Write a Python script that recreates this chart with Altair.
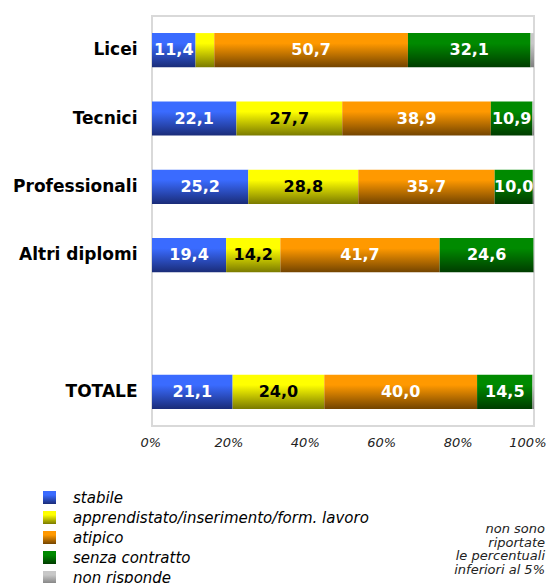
import altair as alt
import pandas as pd

categories = ["Licei", "Tecnici", "Professionali", "Altri diplomi", " ", "TOTALE"]
series = ["stabile", "apprendistato/inserimento/form. lavoro", "atipico",
          "senza contratto", "non risponde"]

stabile = [11.4, 22.1, 25.2, 19.4, 21.1]
apprendistato = [4.9, 27.7, 28.8, 14.2, 24.0]
atipico = [50.7, 38.9, 35.7, 41.7, 40.0]
senza_contratto = [32.1, 10.9, 10.0, 24.6, 14.5]
non_risponde = [0.9, 0.4, 0.3, 0.1, 0.4]
data_cats = ["Licei", "Tecnici", "Professionali", "Altri diplomi", "TOTALE"]

top_colors = ["#3a6bff", "#ffff00", "#ff9900", "#008a00", "#c8c8c8"]
bottom_colors = ["#1a2c78", "#7a7a00", "#734400", "#003c00", "#808080"]
text_colors = ["white", "black", "white", "white", "white"]

note = "non sono\nriportate\nle percentuali\ninferiori al 5%"

rows = []
for si, (s, vals) in enumerate(zip(series, [stabile, apprendistato, atipico,
                                            senza_contratto, non_risponde])):
    for c, v in zip(data_cats, vals):
        rows.append({"cat": c, "serie": s, "idx": si, "v": v,
                     "lab": f"{v:.1f}".replace(".", ",") if v >= 5 else "",
                     "tc": text_colors[si]})
df = pd.DataFrame(rows)


def grad(top, bottom):
    return {"expr": "{'gradient':'linear','x1':0,'y1':0,'x2':0,'y2':1,'stops':["
                    f"{{'offset':0,'color':'{top}'}},"
                    f"{{'offset':0.3,'color':'{top}'}},"
                    f"{{'offset':1,'color':'{bottom}'}}]}}"}


color_range = [grad(t, b) for t, b in zip(top_colors, bottom_colors)]

W, H = 382, 410

base = alt.Chart(df).transform_stack(
    stack="v", groupby=["cat"], as_=["v0", "v1"], sort=[alt.SortField("idx")]
).transform_calculate(
    p0="datum.v0/100", p1="datum.v1/100", mid="(datum.v0+datum.v1)/200"
)

yscale = alt.Scale(domain=categories, paddingInner=0.5, paddingOuter=0.25)
yenc = alt.Y("cat:N", scale=yscale,
             axis=alt.Axis(title=None, ticks=False, domain=False, labelPadding=15,
                           labelFont="DejaVu Sans", labelFontWeight="bold",
                           labelFontSize=17, labelColor="black"))

bars = base.mark_bar(strokeWidth=0).encode(
    x=alt.X("p0:Q", scale=alt.Scale(domain=[0, 1], nice=False),
            axis=alt.Axis(format="%", values=[0, 0.2, 0.4, 0.6, 0.8, 1.0], title=None,
                          ticks=False, domain=False, grid=False, labelPadding=10,
                          labelFont="DejaVu Sans", labelFontStyle="italic",
                          labelFontSize=13, labelColor="#222222", labelFlush=True,
                          labelFlushOffset=12)),
    x2="p1:Q",
    y=yenc,
    color=alt.Color("serie:N", scale=alt.Scale(domain=series, range=color_range),
                    legend=alt.Legend(title=None, orient="none", legendX=-110, legendY=474,
                                      symbolType="square", symbolSize=169,
                                      symbolStrokeWidth=0, labelFont="DejaVu Sans",
                                      labelFontStyle="italic", labelFontSize=15,
                                      labelColor="black", labelOffset=16,
                                      rowPadding=4, labelLimit=400)),
    order=alt.Order("idx:Q"),
)

labels = base.transform_filter("datum.v >= 5").mark_text(
    font="DejaVu Sans", fontWeight="bold", fontSize=16, baseline="middle"
).encode(
    x=alt.X("mid:Q"),
    y=alt.Y("cat:N", scale=yscale),
    text="lab:N",
    color=alt.Color("tc:N", scale=None),
)

note_layer = alt.Chart(pd.DataFrame({"t": [note]})).mark_text(
    font="DejaVu Sans", fontStyle="italic", fontSize=13, align="right",
    baseline="alphabetic", lineBreak="\n", lineHeight=13.5, color="#222222"
).encode(x=alt.value(393), y=alt.value(517), text="t:N")

chart = alt.layer(bars, labels, note_layer).properties(
    width=W, height=H,
    autosize=alt.AutoSizeParams(type="none"),
    padding={"left": 144, "top": 8, "right": 12, "bottom": 157},
).configure_view(stroke="#d9d9d9", strokeWidth=2).configure_axisY(labelAlign="right")

chart.save("out.html", embed_options={"renderer": "svg", "actions": False})
